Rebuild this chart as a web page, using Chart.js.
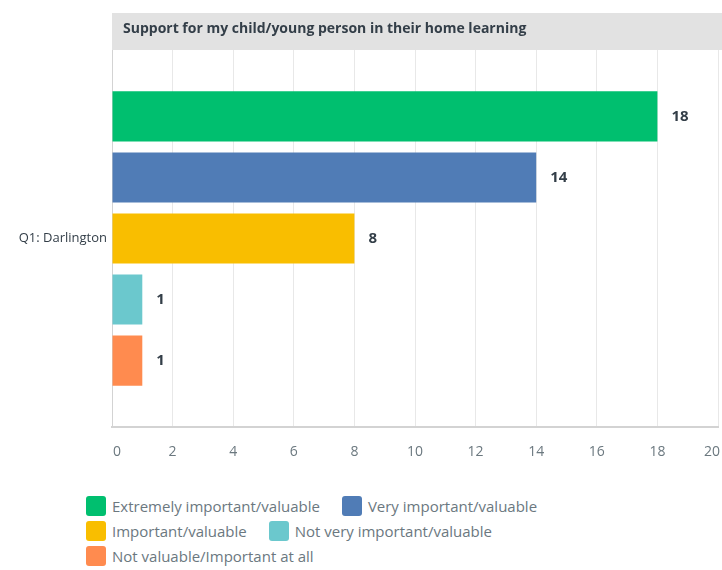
<!DOCTYPE html>
<html><head><meta charset="utf-8">
<script src="https://cdn.jsdelivr.net/npm/chart.js@4/dist/chart.umd.min.js"></script>
<style>
html,body{margin:0;padding:0;background:#fff;width:722px;height:570px;overflow:hidden;font-family:"Open Sans",sans-serif;}
#wrap{position:absolute;left:0;top:0;width:722px;height:472px;}
#legend{position:absolute;left:86px;top:493px;width:620px;font-size:15px;color:#6b787f;}
.row{height:25px;display:flex;align-items:center;}
.item{display:flex;align-items:center;margin-right:22px;}
.sw{width:20px;height:20px;border-radius:3px;margin-right:6px;}
</style></head><body>
<div id="wrap"><canvas id="c" width="722" height="472"></canvas></div>
<div id="legend"></div>
<script>
const title = "Support for my child/young person in their home learning";
const categories = ["Q1: Darlington"];
const seriesNames = ["Extremely important/valuable","Very important/valuable","Important/valuable","Not very important/valuable","Not valuable/Important at all"];
const seriesValues = [[18],[14],[8],[1],[1]];
const seriesColors = ["#00bf6f","#507cb6","#f9be00","#6bc8cd","#ff8b4f"];
const xTicks = [0,2,4,6,8,10,12,14,16,18,20];
const legendRows = [[0,1],[2,3],[4]];

const bandPlugin = {
  id:'band',
  beforeDraw(chart){
    const ctx=chart.ctx, a=chart.chartArea;
    ctx.save();
    ctx.fillStyle='#e2e2e2';
    ctx.fillRect(a.left,13,chart.width-a.left,37);
    ctx.fillStyle='#333e48';
    ctx.font='bold 14px "Open Sans"';
    ctx.textBaseline='middle';
    ctx.fillText(title,a.left+11,29);
    ctx.restore();
  },
  afterDraw(chart){
    const ctx=chart.ctx, xs=chart.scales.x;
    ctx.save();
    ctx.fillStyle='#333e48';
    ctx.font='bold 15px "Open Sans"';
    ctx.textBaseline='middle';
    chart.data.datasets.forEach((ds,i)=>{
      chart.getDatasetMeta(i).data.forEach((bar,j)=>{
        ctx.fillText(String(ds.data[j]),bar.x+14,bar.y);
      });
    });
    ctx.fillStyle='#6b787f';
    ctx.font='14px "Open Sans"';
    xTicks.forEach((v,k)=>{
      const px=xs.getPixelForValue(v);
      const lab=String(v);
      const w=ctx.measureText(lab).width;
      let x=px-w/2;
      if(k===0) x=px+1;
      if(k===xTicks.length-1) x=Math.min(px-w/2, chart.width-w-2);
      ctx.fillText(lab,x,452);
    });
    ctx.restore();
  }
};

new Chart(document.getElementById('c'),{
  type:'bar',
  data:{labels:categories,datasets:seriesNames.map((n,i)=>({label:n,data:seriesValues[i],backgroundColor:seriesColors[i],barPercentage:0.82,categoryPercentage:0.81}))},
  options:{
    indexAxis:'y',responsive:false,animation:false,
    layout:{padding:{top:50,right:4,left:0,bottom:0}},
    plugins:{legend:{display:false},tooltip:{enabled:false},title:{display:false}},
    scales:{
      x:{min:0,max:20,
        afterBuildTicks(s){s.ticks=xTicks.map(v=>({value:v}));},
        grid:{color:'#e8e8e8',drawTicks:false},
        border:{color:'#d3d3d3',width:2},
        ticks:{display:false},
        afterFit(s){s.paddingRight=0;s.paddingLeft=0;s.height=45;}
      },
      y:{grid:{display:false,drawTicks:false},border:{color:'#d3d3d3',width:1},
        ticks:{color:'#333e48',font:{family:'Open Sans',size:13},padding:5},
        afterFit(s){s.width=112;}
      }
    }
  },
  plugins:[bandPlugin]
});

const lg=document.getElementById('legend');
legendRows.forEach(r=>{
  const row=document.createElement('div');row.className='row';
  r.forEach(i=>{
    const it=document.createElement('div');it.className='item';
    const sw=document.createElement('div');sw.className='sw';sw.style.background=seriesColors[i];
    const t=document.createElement('span');t.textContent=seriesNames[i];
    it.appendChild(sw);it.appendChild(t);row.appendChild(it);
  });
  lg.appendChild(row);
});
</script></body></html>
